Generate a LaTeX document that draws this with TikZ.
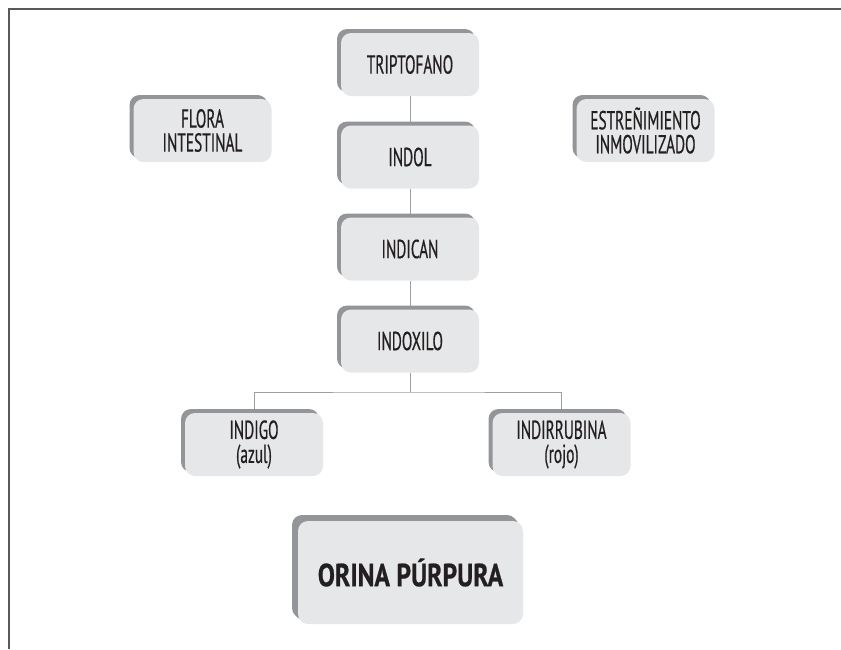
\documentclass[tikz,border=0pt]{standalone}
\usepackage{fontspec}
\setmainfont{PT Sans}[FakeStretch=0.59, FakeBold=0.5]
\newfontfamily\bigfont{PT Sans}[FakeStretch=0.8, FakeBold=0.6]
\usetikzlibrary{shadows,backgrounds}
\definecolor{boxfill}{HTML}{E6E7E8}
\definecolor{boxshadow}{HTML}{939598}
\definecolor{txt}{HTML}{231F20}
\definecolor{linegray}{HTML}{9D9FA2}
\definecolor{framegray}{HTML}{58595B}
\begin{document}
\begin{tikzpicture}[x=1pt,y=-1pt,
  stepbox/.style={rounded corners=10pt, fill=boxfill, minimum width=138pt, minimum height=63pt,
    inner sep=0pt, align=center, text=txt, font=\fontsize{26}{24}\selectfont,
    general shadow={fill=boxshadow, shadow xshift=-4pt, shadow yshift=4pt}},
  bigbox/.style={stepbox, minimum width=225pt, minimum height=103pt,
    font=\bigfont\fontsize{32}{30}\selectfont\bfseries,
    general shadow={fill=boxshadow, shadow xshift=-6pt, shadow yshift=6pt}},
  conn/.style={draw=linegray, line width=1pt}]
\useasboundingbox (0,0) rectangle (841,649);
\draw[framegray, line width=2pt] (9,649) -- (9,9) -- (841,9);
\node[stepbox] (trip) at (410,64.5) {TRIPTOFANO};
\node[stepbox] (indol) at (410,157) {INDOL};
\node[stepbox] (indic) at (410,249) {INDICAN};
\node[stepbox] (indox) at (410,341) {INDOXILO};
\node[stepbox] (flora) at (202.5,130.5) {FLORA\\INTESTINAL};
\node[stepbox] (estr) at (645.5,130.5) {ESTREÑIMIENTO\\INMOVILIZADO};
\node[stepbox] (indigo) at (254,444.5) {INDIGO\\(azul)};
\node[stepbox] (indir) at (561.5,444.5) {INDIRRUBINA\\(rojo)};
\node[bigbox] (orina) at (410.5,572.5) {ORINA PÚRPURA};
\coordinate (br) at (410,392);
\begin{scope}[on background layer]
\draw[conn] (trip) -- (indol);
\draw[conn] (indol) -- (indic);
\draw[conn] (indic) -- (indox);
\draw[conn] (indox) -- (br);
\draw[conn] (indigo.north) |- (br) -| (indir.north);
\end{scope}
\end{tikzpicture}
\end{document}
